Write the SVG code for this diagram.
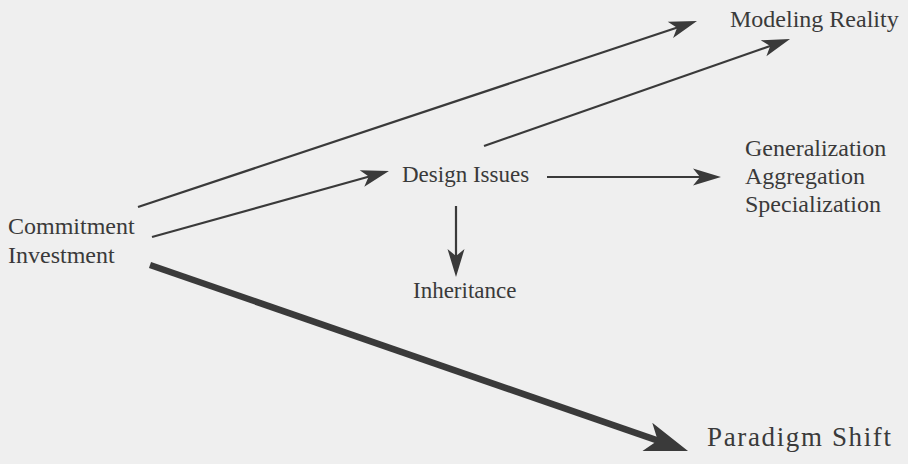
<svg xmlns="http://www.w3.org/2000/svg" width="908" height="464" viewBox="0 0 908 464">
<style>
  .lbl { font-family: "Liberation Serif", "Times New Roman", serif; font-size: 24px; fill: #3a3a3a; }
  .ln { stroke: #3a3a3a; stroke-width: 2.2; fill: none; }
  .thick { stroke: #3a3a3a; stroke-width: 6.5; fill: none; }
</style>
<defs>
  <marker id="ah" markerUnits="userSpaceOnUse" orient="auto" refX="0" refY="0" markerWidth="60" markerHeight="60" viewBox="-30 -30 60 60" overflow="visible">
    <path d="M12,0 L-16,-8.5 L-9,0 L-16,8.5 Z" fill="#3a3a3a"/>
  </marker>
  <marker id="ahbig" markerUnits="userSpaceOnUse" orient="auto" refX="0" refY="0" markerWidth="80" markerHeight="80" viewBox="-40 -40 80 80" overflow="visible">
    <path d="M18,0 L-25,-15 L-14,0 L-25,15 Z" fill="#3a3a3a"/>
  </marker>
</defs>
<rect width="908" height="464" fill="#efefef"/>
<g id="connectors">
  <path class="ln" d="M138,207 L685.6,24.8" marker-end="url(#ah)"/>
  <path class="ln" d="M484,146 L778.7,43" marker-end="url(#ah)"/>
  <path class="ln" d="M152,237 L377.4,174.2" marker-end="url(#ah)"/>
  <path class="ln" d="M547,177 L709,177" marker-end="url(#ah)"/>
  <path class="ln" d="M456,206 L456,265" marker-end="url(#ah)"/>
  <path class="thick" d="M150,265 L671,445.1" marker-end="url(#ahbig)"/>
</g>
<g id="commitment">
  <text class="lbl" x="8" y="234">Commitment</text>
  <text class="lbl" x="8" y="263">Investment</text>
</g>
<g id="design-issues">
  <text class="lbl" x="402" y="182" style="font-size:23px">Design Issues</text>
</g>
<g id="inheritance">
  <text class="lbl" x="413" y="298" style="font-size:23px">Inheritance</text>
</g>
<g id="modeling-reality">
  <text class="lbl" x="730" y="27">Modeling Reality</text>
</g>
<g id="generalization">
  <text class="lbl" x="745" y="156">Generalization</text>
  <text class="lbl" x="745" y="184">Aggregation</text>
  <text class="lbl" x="745" y="212">Specialization</text>
</g>
<g id="paradigm-shift">
  <text class="lbl" x="707" y="446" style="font-size:27px" textLength="184" lengthAdjust="spacing">Paradigm Shift</text>
</g>
</svg>
